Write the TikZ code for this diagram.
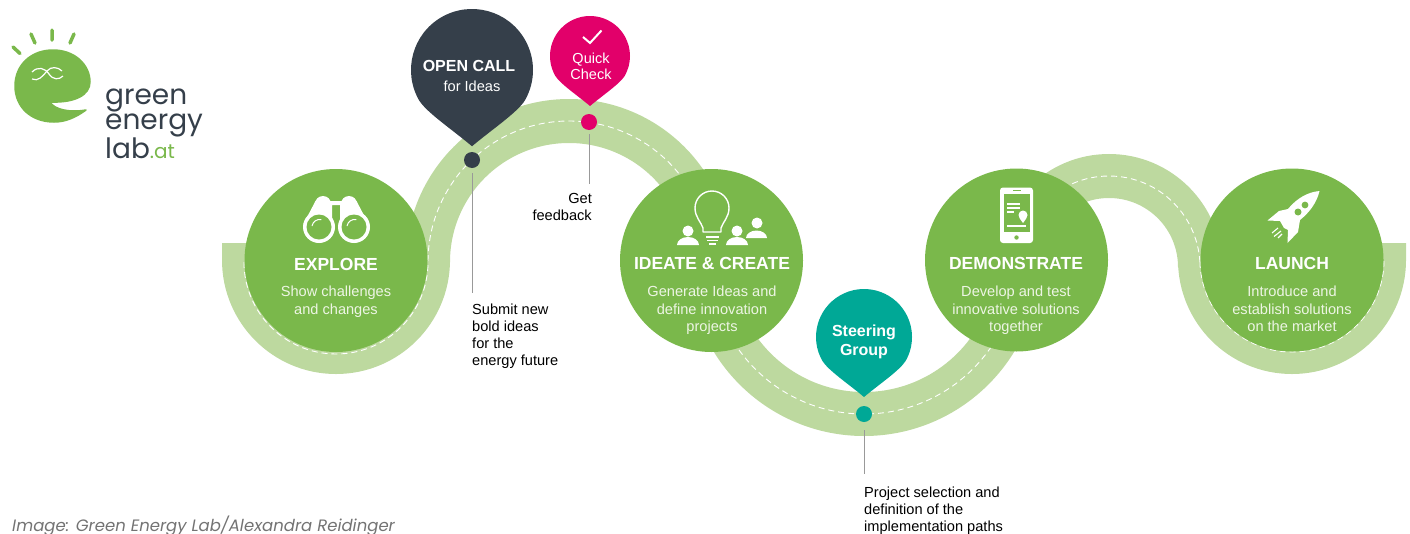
\documentclass[tikz,border=0pt]{standalone}
\usepackage{fontspec}
\setmainfont{Liberation Sans}
\newfontfamily\logofont{Poppins}
\definecolor{stagegreen}{HTML}{7AB84B}
\definecolor{roadgreen}{HTML}{BDD99F}
\definecolor{pindark}{HTML}{353F4A}
\definecolor{pinpink}{HTML}{E2006A}
\definecolor{pinteal}{HTML}{00A896}
\definecolor{subwhite}{HTML}{EDF5E4}
\tikzset{
  stage/.style={circle,fill=stagegreen,minimum size=183pt,inner sep=0pt},
  stagetitle/.style={font=\bfseries\fontsize{17.5}{20}\selectfont,text=white},
  stagesub/.style={anchor=north,align=center,text=subwhite,font=\fontsize{14.6}{17.5}\selectfont},
  note/.style={anchor=north west,align=left,text=black,font=\fontsize{14.6}{17}\selectfont,inner sep=0pt},
  dot/.style={circle,minimum size=16pt,inner sep=0pt},
  leader/.style={draw=black!40,line width=0.8pt},
  pintext/.style={align=center,text=white,inner sep=0pt},
}
\newcommand{\pin}[4]{\fill[#1,shift={(#2,#3)},scale=#4](150:1)arc[start angle=150,end angle=390,radius=1]
  ..controls(0.74,0.70)and(0.32,0.98)..(0,1.25)..controls(-0.32,0.98)and(-0.74,0.70)..cycle;}
\begin{document}
\begin{tikzpicture}[x=1pt,y=1pt,yscale=-1]
    \useasboundingbox(0,0)rectangle(1410,533);

    % road
    \draw[roadgreen,line width=44pt](244,243)--(244,260)arc[start angle=180,end angle=0,radius=92]--(428,262)
      arc[start angle=180,end angle=360,radius=141]--(710,260)
      arc[start angle=180,end angle=0,radius=154]--(1018,267)
      arc[start angle=180,end angle=360,radius=91]--(1200,260)
      arc[start angle=180,end angle=0,radius=92]--(1384,243);
    \draw[white,line width=0.9pt,dash pattern=on 6pt off 4pt](244,262)arc[start angle=180,end angle=0,radius=92]--(428,262)
      arc[start angle=180,end angle=360,radius=141]--(710,260)
      arc[start angle=180,end angle=0,radius=154]--(1018,267)
      arc[start angle=180,end angle=360,radius=91]--(1200,260)
      arc[start angle=180,end angle=0,radius=92];

    % stages
    \node[stage](explore)at(336,260.5){};
    \node[stage](ideate)at(711.5,260.5){};
    \node[stage](demo)at(1016.5,260){};
    \node[stage](launch)at(1292,260){};

    \node[stagetitle]at(336,264){EXPLORE};
    \node[stagesub]at(336,282.5){Show challenges\\and changes};
    \node[stagetitle]at(712,263){IDEATE \& CREATE};
    \node[stagesub]at(712,282.5){Generate Ideas and\\define innovation\\projects};
    \node[stagetitle]at(1016,263){DEMONSTRATE};
    \node[stagesub]at(1016,282.5){Develop and test\\innovative solutions\\together};
    \node[stagetitle]at(1292,263){LAUNCH};
    \node[stagesub]at(1292,282.5){Introduce and\\establish solutions\\on the market};

    % binoculars
    \fill[white](323,204)circle(8)(349,204)circle(8);
    \fill[white](315.5,201)--(303.5,224)--(319,243)--(332,226)--(332,205)--(340,205)--(340,226)--(354,243)--(368.5,224)--(356.5,201)--cycle;
    \fill[stagegreen](332,226)--(340,226)--(338,243)--(334,243)--cycle;
    \fill[white](319,227)circle(16)(354,227)circle(16);
    \fill[stagegreen](319,227)circle(12.5)(354,227)circle(12.5);
    \draw[white,line width=1pt](312,226)arc[start angle=190,end angle=280,radius=8](347,226)arc[start angle=190,end angle=280,radius=8];

    % bulb and people
    \draw[white,line width=1.4pt,line join=round](703,232)--(703,228)..controls(701,222)and(695,217)..(695,208)
      arc[start angle=180,end angle=360,radius=17]..controls(729,217)and(723,222)..(721,228)--(721,232)--cycle;
    \draw[white,line width=1.4pt](706,237)--(719,237)(707,240.5)--(718,240.5)(709,244)--(716,244);
    \fill[white](757,223)circle(5.5)(746,238)arc[start angle=180,end angle=360,x radius=10.5,y radius=7.5]--cycle;
    \fill[white](688,231)circle(5.5)(677,245)arc[start angle=180,end angle=360,x radius=11,y radius=8]--cycle;
    \fill[white](737,231)circle(5.5)(726,245)arc[start angle=180,end angle=360,x radius=11,y radius=8]--cycle;

    % phone
    \fill[white,rounded corners=3pt](1000,187.5)rectangle(1033,243);
    \fill[stagegreen](1003.5,193.5)rectangle(1029.5,232);
    \draw[stagegreen,line width=1pt](1013,190.5)--(1021,190.5);
    \fill[stagegreen](1016.5,237.5)circle(2.2);
    \draw[white,line width=1.2pt](1007,204)--(1020,204)(1007,208)--(1020,208)(1007,212)--(1014,212)(1007,226)--(1026,226);
    \fill[white](1023,223)..controls(1020,219)and(1018.5,217)..(1018.5,215)arc[start angle=180,end angle=360,radius=4.5]..controls(1027.5,217)and(1026,219)..cycle;

    % rocket
    \fill[white](1319.5,191)..controls(1308,192)and(1297,198)..(1288,209)--(1279,211)--(1267.5,220.5)--(1280,221)--(1284,228)
      --(1288,230)--(1287.5,243)--(1298,232)--(1300,220)..controls(1310,212)and(1317,202)..cycle;
    \fill[stagegreen](1305,205)circle(3.4)(1298,212)circle(3.5);
    \draw[white,line width=1.1pt](1272,233)--(1278,228)(1274,236.5)--(1281,231)(1278,238)--(1282,234);

    % pins
    \pin{pindark}{472}{70}{61}
    \pin{pinpink}{590}{56}{40}
    \pin{pinteal}{864}{337}{48}
    \node[pintext,font=\bfseries\fontsize{16}{18}\selectfont](opencall)at(469,66){OPEN CALL};
    \node[pintext,font=\fontsize{14.6}{16}\selectfont](forideas)at(472,86){for Ideas};
    \node[pintext,font=\fontsize{14.5}{16.5}\selectfont](quick)at(591,66.5){Quick\\Check};
    \draw[white,line width=2pt](583,37)--(590,43)--(601.5,30.5);
    \node[pintext,font=\bfseries\fontsize{16}{18.5}\selectfont](steering)at(864,342){Steering\\Group};

    % dots and notes
    \node[dot,fill=pindark](dotopen)at(472,160){};
    \node[dot,fill=pinpink](dotquick)at(589,122){};
    \node[dot,fill=pinteal](dotsteer)at(864,414){};

    \node[note](noteopen)at(472,303.5){Submit new\\bold ideas\\for the\\energy future};
    \node[note,anchor=north east,align=right](notequick)at(592,193){Get\\feedback};
    \node[note](notesteer)at(864,486.5){Project selection and\\definition of the\\implementation paths};

    \coordinate(endopen)at(472,293);
    \coordinate(endquick)at(589,184);
    \coordinate(endsteer)at(864,474);
    \draw[leader,shorten <=5pt](dotopen)--(endopen);
    \draw[leader,shorten <=4pt](dotquick)--(endquick);
    \draw[leader,shorten <=8pt](dotsteer)--(endsteer);

    % logo
    \draw[stagegreen,line width=3.5pt,line cap=round](13,47)--(20,53.5)(31,34)--(35,43)(52,30)--(52,40)(74,34)--(70,43);
    \filldraw[stagegreen,line width=1.5pt,line join=round](86,110)..controls(75,118)and(65,122)..(54,122)..controls(31,122)and(15,107)..(15,86)
      ..controls(15,65)and(31,50)..(53,50)..controls(75,50)and(90,65)..(90,82)..controls(90,95)and(75,103)..(50,102)
      ..controls(54,109)and(68,113)..(86,110)--cycle;
    \draw[white,line width=1.2pt](32,72)..controls(38,66)and(45,68)..(49,74)..controls(53,80)and(59,80)..(63,76);
    \draw[white,line width=1.2pt](32,79)..controls(38,82)and(43,76)..(47,71)..controls(51,66)and(58,67)..(62,71);
    \node[anchor=base west,align=left,inner sep=0pt,text=pindark,font=\logofont\fontsize{28}{25}\selectfont](logotext)at(105,158.5){green\\energy\\lab\textcolor{stagegreen}{\fontsize{20}{25}\selectfont.at}};

    \node[anchor=base west,inner sep=0pt,text=black!55,font=\logofont\itshape\fontsize{16.5}{20}\selectfont](credit)at(12,531){Image: Green Energy Lab/Alexandra Reidinger};
\end{tikzpicture}
\end{document}
